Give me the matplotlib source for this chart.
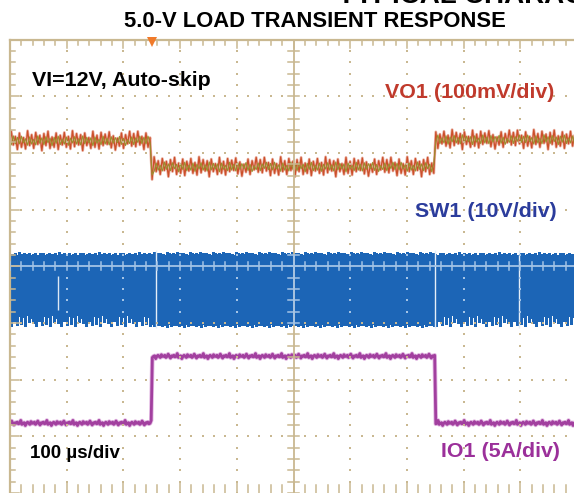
import numpy as np
import matplotlib.pyplot as plt

plt.rcParams['font.family'] = ['Liberation Sans', 'DejaVu Sans']

# time base: 100 us/div, 0 = centre of screen
load_on_us = -250
load_off_us = 250

# VO1, deviation from 5.0 V in mV (100 mV/div)
vo1_pos_div = 2.21
vo1_levels_mv = [0, -46, 2]
vo1_undershoot_mv = -68
vo1_ripple_mv = [13, -10, 17, -7, 8, -15, 14, -11, 6, -14, 18, -8, 11, -13, 15, -6,
                 10, -17, 13, -8, 17, -13, 7, -11, 14, -15, 10, -7, 15, -11, 8, -14,
                 18, -10, 13, -7, 11, -17, 14, -8, 6, -13, 17, -11, 10, -14, 15, -8,
                 12, -6, 16, -12, 9, -16, 5, -9, 14, -13, 11, -5, 17, -9]

# SW1 in V (10 V/div)
sw1_pos_div = -1.02
sw1_top_light_v = [12.3, 11.8, 12.6, 9.4, 9.3, 12.4, 12.2, 12.0, 12.5, 10.1, 9.6, 12.2,
                   12.7, 12.0, 12.4, 9.2, 9.5, 12.5, 12.1, 12.1, 12.4, 11.0, 12.6, 12.2,
                   9.5, 9.7, 12.3, 11.6, 12.5, 12.0, 12.2, 9.9, 9.3, 12.6, 12.4,
                   12.1, 12.5, 10.0, 9.4, 12.2]
sw1_top_heavy_v = [12.2, 12.5, 12.0, 12.4, 11.7, 12.6, 12.1, 12.3, 11.9, 12.8, 12.2, 12.0,
                   12.5, 11.8, 12.3, 12.6, 12.1, 11.6, 12.4, 12.2, 11.3, 12.0, 12.7]
sw1_bot_light_v = [1.8, 0.2, 1.6, 1.9, -0.3, 1.7, 1.5, 0.6, 1.9, 1.8, -0.2, 1.6,
                   1.4, 1.9, 0.1, 1.7, 1.8, 1.2, -0.4, 1.9, 1.6, 1.7, 0.4, 1.8, 1.1]
sw1_bot_heavy_v = [-0.1, 0.3, -0.4, 0.0, 0.6, -0.2, 0.1, -0.5, 0.2, 0.0, 0.9, -0.3,
                   0.1, -0.1, 0.4, -0.2, 0.7]
sw1_skip_us = [-243, 250, 397]
sw1_half_skip_us = [-416]

# IO1 in A (5 A/div)
io1_pos_div = -2.79
io1_levels_a = [0.1, 6.0]
io1_noise_a = [0.0, 0.1, -0.1, 0.0, 0.2, 0.0, -0.15, 0.05, 0.0, 0.1, -0.05, 0.0,
               0.25, -0.1, 0.0, 0.05, -0.2, 0.0, 0.1, 0.0, -0.1, 0.15, 0.0]

W, H = 574, 493
tan = '#c9b891'
light = '#a4c4e6'
px_us = 100 / 56.7   # one screen pixel in us

fig = plt.figure(figsize=(W / 100, H / 100), dpi=100)
ax = fig.add_axes([10 / W, 0, 567 / W, 453.5 / H])
ax.set_xlim(-5, 5)
ax.set_ylim(-4, 4)
ax.axis('off')

# ---- VO1
t = np.arange(-505, 510, 3.6)
base = np.where(t < load_on_us, vo1_levels_mv[0],
                np.where(t < load_off_us, vo1_levels_mv[1], vo1_levels_mv[2]))
rip = np.resize(np.array(vo1_ripple_mv, float), len(t))
i_on = np.argmin(np.abs(t - load_on_us))
vo_red = base + rip
vo_red[i_on] = vo1_undershoot_mv
vo_olive = base + 0.5 * np.roll(rip, 5)
vo_olive[i_on] = vo1_undershoot_mv + 8
x = t / 100
ax.plot(x, vo1_pos_div + vo_red / 100, color='#eab0a2', lw=2.0, zorder=2)
ax.plot(x, vo1_pos_div + vo_red / 100, color='#cc4f2a', lw=0.9, zorder=3)
ax.plot(x, vo1_pos_div + vo_olive / 100, color='#9a8f2e', lw=0.8, zorder=4)

# ---- SW1: one switching column per screen pixel
blue = '#1c65b6'
ts = np.arange(-505, 510, px_us)
light_load = (ts < load_on_us) | (ts >= load_off_us)
top = np.where(light_load, np.resize(sw1_top_light_v, len(ts)),
               np.resize(sw1_top_heavy_v, len(ts)))
bot = np.where(light_load, np.resize(sw1_bot_light_v, len(ts)),
               np.resize(sw1_bot_heavy_v, len(ts)))
ax.fill_between(ts / 100, sw1_pos_div + 2.0 / 10, sw1_pos_div + 9.0 / 10,
                color=blue, lw=0, zorder=3)
ax.vlines(ts / 100, sw1_pos_div + bot / 10, sw1_pos_div + top / 10,
          color=blue, lw=0.75, antialiased=False, zorder=3)
for s in sw1_skip_us:
    ax.vlines(s / 100, sw1_pos_div + min(sw1_bot_heavy_v) / 10 - 0.02,
              sw1_pos_div + max(sw1_top_heavy_v) / 10 + 0.02,
              color='#e4eef8', lw=1.0, zorder=4)
for s in sw1_half_skip_us:
    ax.vlines(s / 100, sw1_pos_div + 2.5 / 10, sw1_pos_div + 8.5 / 10,
              color='#dce8f5', lw=1.0, zorder=4)

# ---- IO1
ti = np.arange(-505, 510, 2.0)
io = np.where((ti >= load_on_us) & (ti < load_off_us), io1_levels_a[1], io1_levels_a[0])
io = io + np.resize(io1_noise_a, len(ti))
ax.plot(ti / 100, io1_pos_div + io / 5, color='#e2b8e2', lw=3.2, zorder=2)
ax.plot(ti / 100, io1_pos_div + io / 5, color='#a2409f', lw=2.0, zorder=3)

# ---- graticule
def dots(xs, ys, c):
    ax.scatter(xs, ys, s=1.6, color=c, marker='s', linewidths=0, zorder=6)

fine = np.arange(-5, 5.01, 0.2)
yy = np.arange(-4, 4.01, 0.2)
inband = (yy > sw1_pos_div - 0.05) & (yy < sw1_pos_div + 1.3)
for k in range(-4, 5):
    if k == 0:
        continue
    dots(np.full((~inband).sum(), k), yy[~inband], tan)
    dots(np.full(inband.sum(), k), yy[inband], light)
for k in range(-3, 4):
    if k == 0:
        continue
    dots(fine, np.full(len(fine), k), tan)

# centre lines with fine ticks
ax.plot([0, 0], [-4, 4], color=tan, lw=1.3, zorder=6)
ax.plot([0, 0], [sw1_pos_div, sw1_pos_div + 1.2], color=light, lw=1.3, zorder=7)
ax.plot([-5, 5], [0, 0], color=light, lw=1.3, zorder=6)
for v in yy:
    c = light if sw1_pos_div < v < sw1_pos_div + 1.25 else tan
    ax.plot([-0.09, 0.09], [v, v], color=c, lw=1.1, zorder=7)
for v in fine:
    ax.plot([v, v], [-0.07, 0.07], color=light, lw=1.1, zorder=7)

# outer frame with ticks
ax.plot([-5, -5], [-4, 4], color=tan, lw=1.6, clip_on=False, zorder=6)
ax.plot([-5, 5], [4, 4], color=tan, lw=1.6, clip_on=False, zorder=6)
for v in fine:
    ln = 0.15 if abs(v - round(v)) < 1e-6 else 0.09
    ax.plot([v, v], [4, 4 - ln], color=tan, lw=1.1, zorder=6)
    ax.plot([v, v], [-4, -4 + ln + 0.05], color=tan, lw=1.1, zorder=6)
for v in yy:
    ln = 0.15 if abs(v - round(v)) < 1e-6 else 0.09
    ax.plot([-5, -5 + ln], [v, v], color=tan, lw=1.1, zorder=6)

# trigger position marker
ax.plot(load_on_us / 100, 3.95, marker='v', color='#f07a2a', ms=7, mew=0,
        clip_on=False, zorder=8)

# ---- labels
def label(xp, yp, s, c='black', size=15.4, ha='left'):
    fig.text(xp / W, 1 - yp / H, s, color=c, fontsize=size, fontweight='bold',
             ha=ha, va='baseline')

label(338, 3, 'TYPICAL CHARACTERISTICS', size=20)
label(315, 27, '5.0-V LOAD TRANSIENT RESPONSE', size=15.8, ha='center')
label(32, 86, 'VI=12V, Auto-skip')
label(554, 98, 'VO1 (100mV/div)', c='#c03a2c', ha='right')
label(557, 217, 'SW1 (10V/div)', c='#2b3c9c', ha='right')
label(560, 457, 'IO1 (5A/div)', c='#9b309a', ha='right')
label(30, 458, '100 µs/div', size=13.5)

fig.savefig('out.png', dpi=100)
